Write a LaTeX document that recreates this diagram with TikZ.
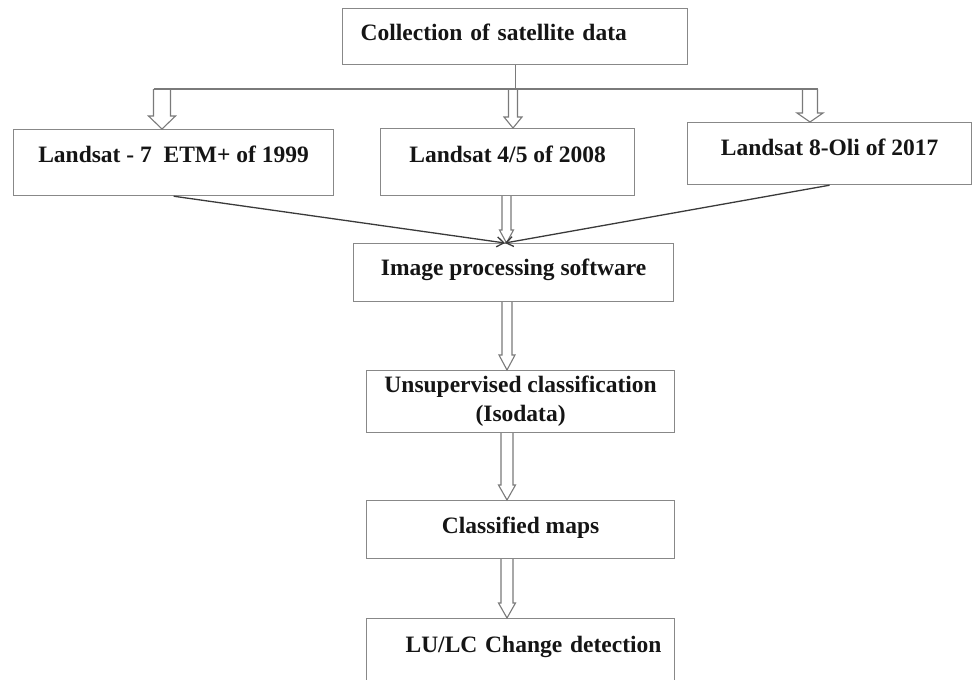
\documentclass[tikz,border=0pt]{standalone}
\usepackage{fontspec}
\setmainfont{Liberation Serif}
\usetikzlibrary{arrows.meta,calc}
\definecolor{boxgray}{HTML}{888888}
\definecolor{arrgray}{HTML}{7A7A7A}
\definecolor{linedark}{HTML}{3A3A3A}
\definecolor{txt}{HTML}{151515}
\tikzset{
  box/.style={draw=boxgray, line width=1.2pt, inner sep=0pt, anchor=north west,
    font=\bfseries\fontsize{23.5}{29}\selectfont, text=txt},
  harrow/.style={draw=arrgray, line width=1.1pt, line join=miter},
  plainline/.style={draw=arrgray, line width=1.2pt},
  slant/.style={draw=linedark, line width=1.3pt, -{Straight Barb[length=7pt,width=10pt]}}
}
% #1 shaft half width, #2 head half width, #3 head length, #4 start, #5 tip
\newcommand\hollowarrow[5]{%
  \draw[harrow] let \p1=(#4), \p2=(#5) in
    (\x1-#1,\y1) -- (\x1-#1,\y2+#3) -- (\x1-#2,\y2+#3) -- (\x1,\y2)
    -- (\x1+#2,\y2+#3) -- (\x1+#1,\y2+#3) -- (\x1+#1,\y1);}
\begin{document}
\begin{tikzpicture}[x=1pt,y=-1pt]
\useasboundingbox (0,0) rectangle (972,680);
\clip (0,0) rectangle (972,680);
% boxes
\node[box, text width=309, inner xsep=18, align=left, text height=32, text depth=24] (top) at (342,8) {Collection of satellite data};
\node[box, minimum width=320, text height=33, text depth=33] (left) at (13,129) {Landsat - 7~ ETM+ of 1999};
\node[box, minimum width=254, text height=34, text depth=33] (mid) at (380,128) {Landsat 4/5 of 2008};
\node[box, minimum width=284, text height=33, text depth=29] (right) at (687,122) {Landsat 8-Oli of 2017};
\node[box, minimum width=320, text height=32, text depth=26] (ip) at (353,243) {Image processing software};
\node[box, minimum width=308, minimum height=62, align=center] (unsup) at (366,370) {Unsupervised classification\\(Isodata)};
\node[box, minimum width=308, text height=33, text depth=25] (class) at (366,500) {Classified maps};
\node[box, text width=308, align=left, text height=34, text depth=40] (lu) at (366,618) {\hspace*{39pt}LU/LC Change detection};
% bus
\coordinate (bus) at (top.south |- 0,89);
\coordinate (busL) at (153.5,89);
\coordinate (busR) at (817.5,89);
\coordinate (aL) at (162,89);
\coordinate (aM) at (513,89);
\coordinate (aR) at (810,89);
\draw[plainline] (top.south) -- (bus);
\draw[plainline] (busL) -- (busR);
\hollowarrow{8.5}{13.5}{13}{aL}{aL |- left.north}
\hollowarrow{4.5}{9}{11}{aM}{aM |- mid.north}
\hollowarrow{7.5}{13}{9}{aR}{aR |- right.north}
% to image processing
\coordinate (m2) at (506.5,0 |- mid.south);
\coordinate (conv) at (505,0 |- ip.north);
\hollowarrow{4.5}{7}{13}{m2}{m2 |- ip.north}
\draw[slant] (left.south) -- (conv);
\draw[slant] (right.south) -- (conv);
% lower chain
\coordinate (c1) at (507,0 |- ip.south);
\hollowarrow{5}{8}{15}{c1}{c1 |- unsup.north}
\coordinate (c2) at (507,0 |- unsup.south);
\hollowarrow{6}{8.5}{15}{c2}{c2 |- class.north}
\coordinate (c3) at (507,0 |- class.south);
\hollowarrow{6}{8.5}{15}{c3}{c3 |- lu.north}
\end{tikzpicture}
\end{document}
